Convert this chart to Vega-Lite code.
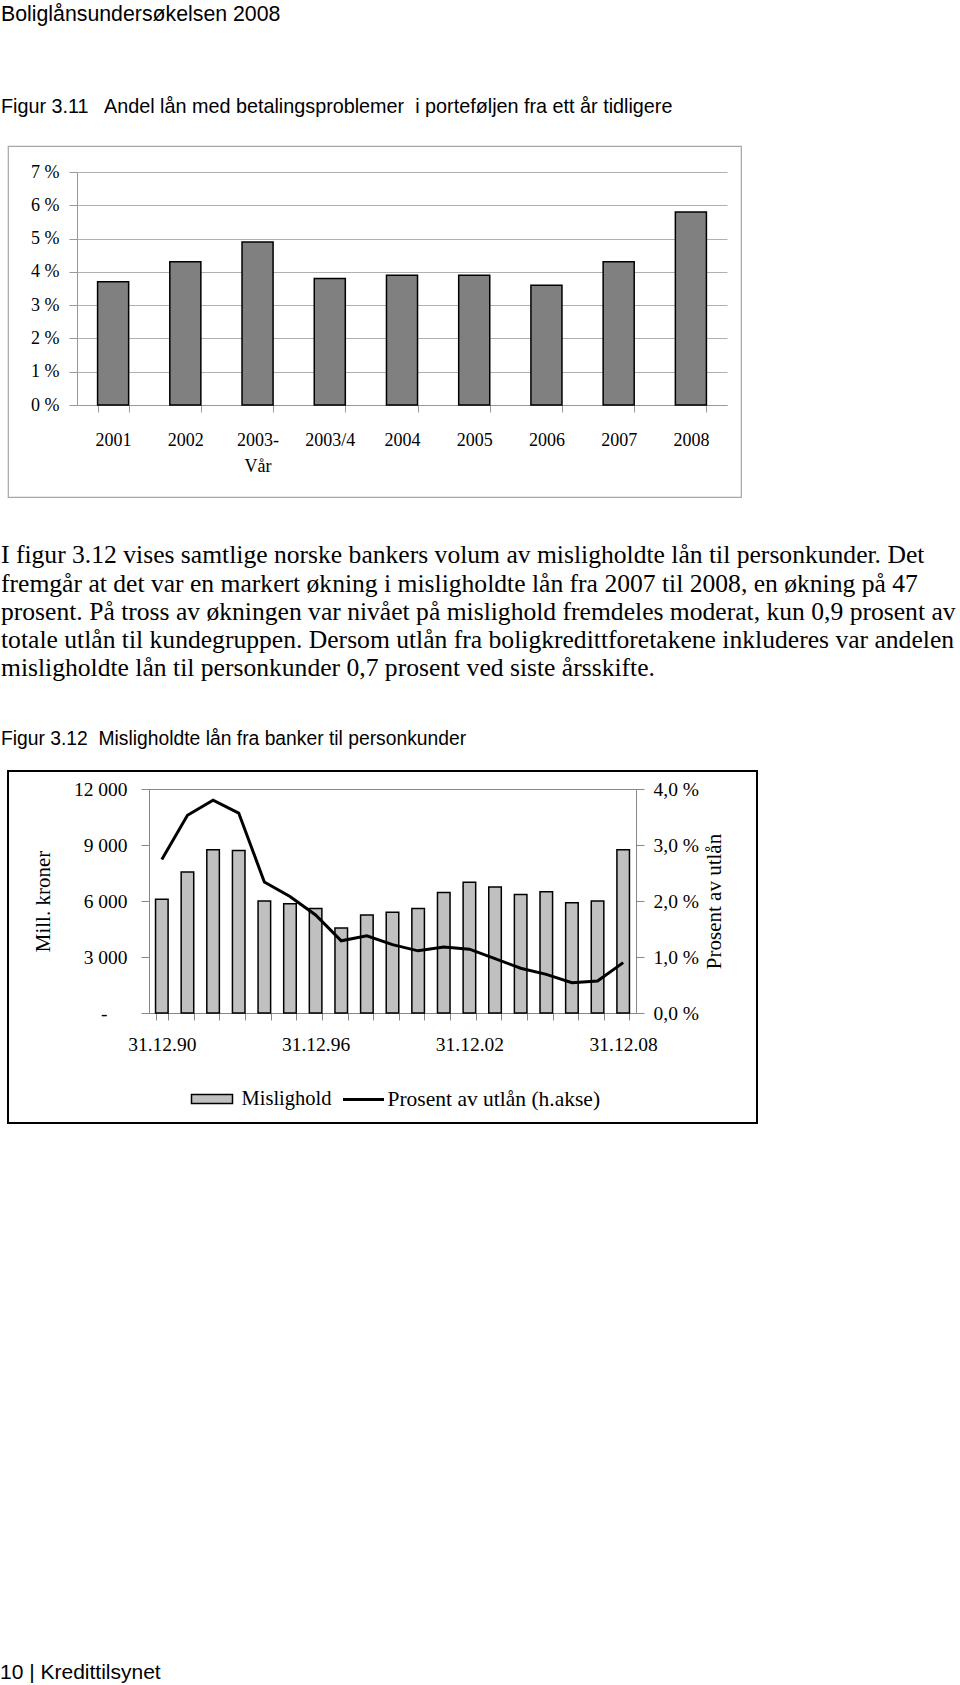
{
  "$schema": "https://vega.github.io/schema/vega-lite/v6.json",
  "background": "white",
  "padding": {"left": 0, "top": 3, "right": 0, "bottom": 0},
  "config": {
    "font": "Liberation Serif",
    "axis": {"labelFont": "Liberation Serif", "titleFont": "Liberation Serif", "labelColor": "black", "titleColor": "black", "titleFontWeight": "normal"},
    "legend": {"labelFont": "Liberation Serif", "labelColor": "black"}
  },
  "title": {"text": "10 | Kredittilsynet", "orient": "bottom", "anchor": "start", "font": "Liberation Sans", "fontSize": 21, "fontWeight": "normal", "color": "black", "offset": 538},
  "spacing": 44,
  "vconcat": [
    {
      "width": 733,
      "height": 351,
      "view": {"stroke": "#a6a6a6", "strokeWidth": 1.2},
      "title": {
        "text": "Boliglånsundersøkelsen 2008",
        "subtitle": "Figur 3.11\u00a0\u00a0 Andel lån med betalingsproblemer\u00a0 i porteføljen fra ett år tidligere",
        "anchor": "start", "frame": "group", "dx": -7,
        "font": "Liberation Sans", "fontSize": 21.3, "fontWeight": "normal", "color": "black",
        "subtitleFont": "Liberation Sans", "subtitleFontSize": 19.8, "subtitleColor": "black",
        "subtitlePadding": 72.2, "offset": 29
      },
      "data": {"values": [
        {"aar": "2001", "andel": 3.7},
        {"aar": "2002", "andel": 4.3},
        {"aar": "2003-Vår", "andel": 4.9},
        {"aar": "2003/4", "andel": 3.8},
        {"aar": "2004", "andel": 3.9},
        {"aar": "2005", "andel": 3.9},
        {"aar": "2006", "andel": 3.6},
        {"aar": "2007", "andel": 4.3},
        {"aar": "2008", "andel": 5.8}
      ]},
      "mark": {"type": "bar", "fill": "#808080", "stroke": "black", "strokeWidth": 1.5},
      "encoding": {
        "x": {
          "field": "aar", "type": "nominal", "sort": null,
          "scale": {"range": [69, 719], "paddingInner": 0.57, "paddingOuter": 0.285},
          "axis": {
            "title": null, "labelAngle": 0, "offset": -92, "grid": false,
            "domainColor": "#999", "tickColor": "#999", "tickSize": 7, "tickBand": "extent",
            "labelFontSize": 18, "labelPadding": 19,
            "labelExpr": "datum.value == '2003-Vår' ? ['2003-', 'Vår'] : datum.label",
            "labelLineHeight": 26
          }
        },
        "y": {
          "field": "andel", "type": "quantitative",
          "scale": {"domain": [0, 7], "range": [259, 26], "nice": false},
          "axis": {
            "title": null, "values": [0, 1, 2, 3, 4, 5, 6, 7], "offset": -69,
            "domainColor": "#999", "tickColor": "#999", "tickSize": 8,
            "grid": true, "gridColor": "#b0b0b0",
            "labelFontSize": 18, "labelPadding": 10,
            "labelExpr": "datum.value + ' %'"
          }
        }
      }
    },
    {
      "width": 749,
      "height": 352,
      "view": {"stroke": "black", "strokeWidth": 2},
      "title": {
        "text": [
          "I figur 3.12 vises samtlige norske bankers volum av misligholdte lån til personkunder. Det",
          "fremgår at det var en markert økning i misligholdte lån fra 2007 til 2008, en økning på 47",
          "prosent. På tross av økningen var nivået på mislighold fremdeles moderat, kun 0,9 prosent av",
          "totale utlån til kundegruppen. Dersom utlån fra boligkredittforetakene inkluderes var andelen",
          "misligholdte lån til personkunder 0,7 prosent ved siste årsskifte."
        ],
        "subtitle": "Figur 3.12\u00a0 Misligholdte lån fra banker til personkunder",
        "anchor": "start", "frame": "group", "dx": -7,
        "font": "Liberation Serif", "fontSize": 25.6, "lineHeight": 28.25, "fontWeight": "normal", "color": "black",
        "subtitleFont": "Liberation Sans", "subtitleFontSize": 19.3, "subtitleColor": "black",
        "subtitlePadding": 47.7, "offset": 22
      },
      "data": {"values": [
        {"dato": "31.12.90", "mislighold": 6100, "prosent": 2.74},
        {"dato": "31.12.91", "mislighold": 7550, "prosent": 3.53},
        {"dato": "31.12.92", "mislighold": 8750, "prosent": 3.80},
        {"dato": "31.12.93", "mislighold": 8700, "prosent": 3.57},
        {"dato": "31.12.94", "mislighold": 6000, "prosent": 2.34},
        {"dato": "31.12.95", "mislighold": 5850, "prosent": 2.08},
        {"dato": "31.12.96", "mislighold": 5600, "prosent": 1.75},
        {"dato": "31.12.97", "mislighold": 4550, "prosent": 1.29},
        {"dato": "31.12.98", "mislighold": 5250, "prosent": 1.38},
        {"dato": "31.12.99", "mislighold": 5400, "prosent": 1.22},
        {"dato": "31.12.00", "mislighold": 5600, "prosent": 1.11},
        {"dato": "31.12.01", "mislighold": 6450, "prosent": 1.18},
        {"dato": "31.12.02", "mislighold": 7000, "prosent": 1.14},
        {"dato": "31.12.03", "mislighold": 6750, "prosent": 0.97},
        {"dato": "31.12.04", "mislighold": 6350, "prosent": 0.80},
        {"dato": "31.12.05", "mislighold": 6500, "prosent": 0.69},
        {"dato": "31.12.06", "mislighold": 5900, "prosent": 0.54},
        {"dato": "31.12.07", "mislighold": 6000, "prosent": 0.57},
        {"dato": "31.12.08", "mislighold": 8750, "prosent": 0.90}
      ]},
      "encoding": {
        "x": {
          "field": "dato", "type": "nominal", "sort": null,
          "scale": {"range": [141, 628], "paddingInner": 0.51, "paddingOuter": 0.255},
          "axis": {
            "title": null, "labelAngle": 0, "offset": -110, "grid": false,
            "domainColor": "#888", "tickColor": "#888", "tickSize": 7, "tickBand": "extent",
            "labelFontSize": 19.5, "labelPadding": 15, "labelOverlap": false,
            "labelExpr": "indexof(['31.12.90', '31.12.96', '31.12.02', '31.12.08'], datum.value) >= 0 ? datum.value : ''"
          }
        }
      },
      "layer": [
        {
          "mark": {"type": "bar", "stroke": "black", "strokeWidth": 1.5},
          "encoding": {
            "y": {
              "field": "mislighold", "type": "quantitative",
              "scale": {"domain": [0, 12000], "range": [242, 18], "nice": false},
              "axis": {
                "title": "Mill. kroner", "titleFontSize": 21, "titlePadding": 20,
                "values": [0, 3000, 6000, 9000, 12000], "offset": -141,
                "domainColor": "#888", "tickColor": "#888", "tickSize": 8,
                "grid": true, "gridColor": "#888",
                "gridOpacity": {"condition": {"test": "datum.value === 12000", "value": 1}, "value": 0},
                "labelFontSize": 19.5,
                "labelPadding": {"condition": {"test": "datum.value === 0", "value": 34}, "value": 14},
                "labelExpr": "datum.value == 0 ? '-' : replace(format(datum.value, ','), ',', ' ')"
              }
            },
            "fill": {
              "datum": "Mislighold",
              "scale": {"domain": ["Mislighold"], "range": ["#c0c0c0"]},
              "legend": {
                "title": null, "orient": "none", "legendX": 182.5, "legendY": 931.5,
                "padding": 0, "labelLimit": 400,
                "symbolType": "M-1,-0.22H1V0.22H-1Z", "symbolSize": 1681,
                "symbolStrokeColor": "black", "symbolStrokeWidth": 1.5,
                "labelFontSize": 20.5, "labelOffset": 8
              }
            }
          }
        },
        {
          "mark": {"type": "line", "strokeWidth": 3},
          "encoding": {
            "y": {
              "field": "prosent", "type": "quantitative",
              "scale": {"domain": [0, 4], "range": [242, 18], "nice": false},
              "axis": {
                "orient": "right", "title": "Prosent av utlån", "titleFontSize": 21, "titlePadding": 26, "titleAngle": -90,
                "values": [0, 1, 2, 3, 4], "offset": -121, "grid": false,
                "domainColor": "#888", "tickColor": "#888", "tickSize": 8,
                "labelFontSize": 19.5, "labelPadding": 9,
                "labelExpr": "replace(format(datum.value, '.1f'), '.', ',') + ' %'"
              }
            },
            "stroke": {
              "datum": "Prosent av utlån (h.akse)",
              "scale": {"domain": ["Prosent av utlån (h.akse)"], "range": ["black"]},
              "legend": {
                "title": null, "orient": "none", "legendX": 333.5, "legendY": 931.5,
                "padding": 0, "labelLimit": 400,
                "symbolType": "stroke", "symbolSize": 1681, "symbolStrokeWidth": 3,
                "labelFontSize": 21.5, "labelOffset": 2
              }
            }
          }
        }
      ],
      "resolve": {"scale": {"y": "independent"}}
    }
  ]
}
